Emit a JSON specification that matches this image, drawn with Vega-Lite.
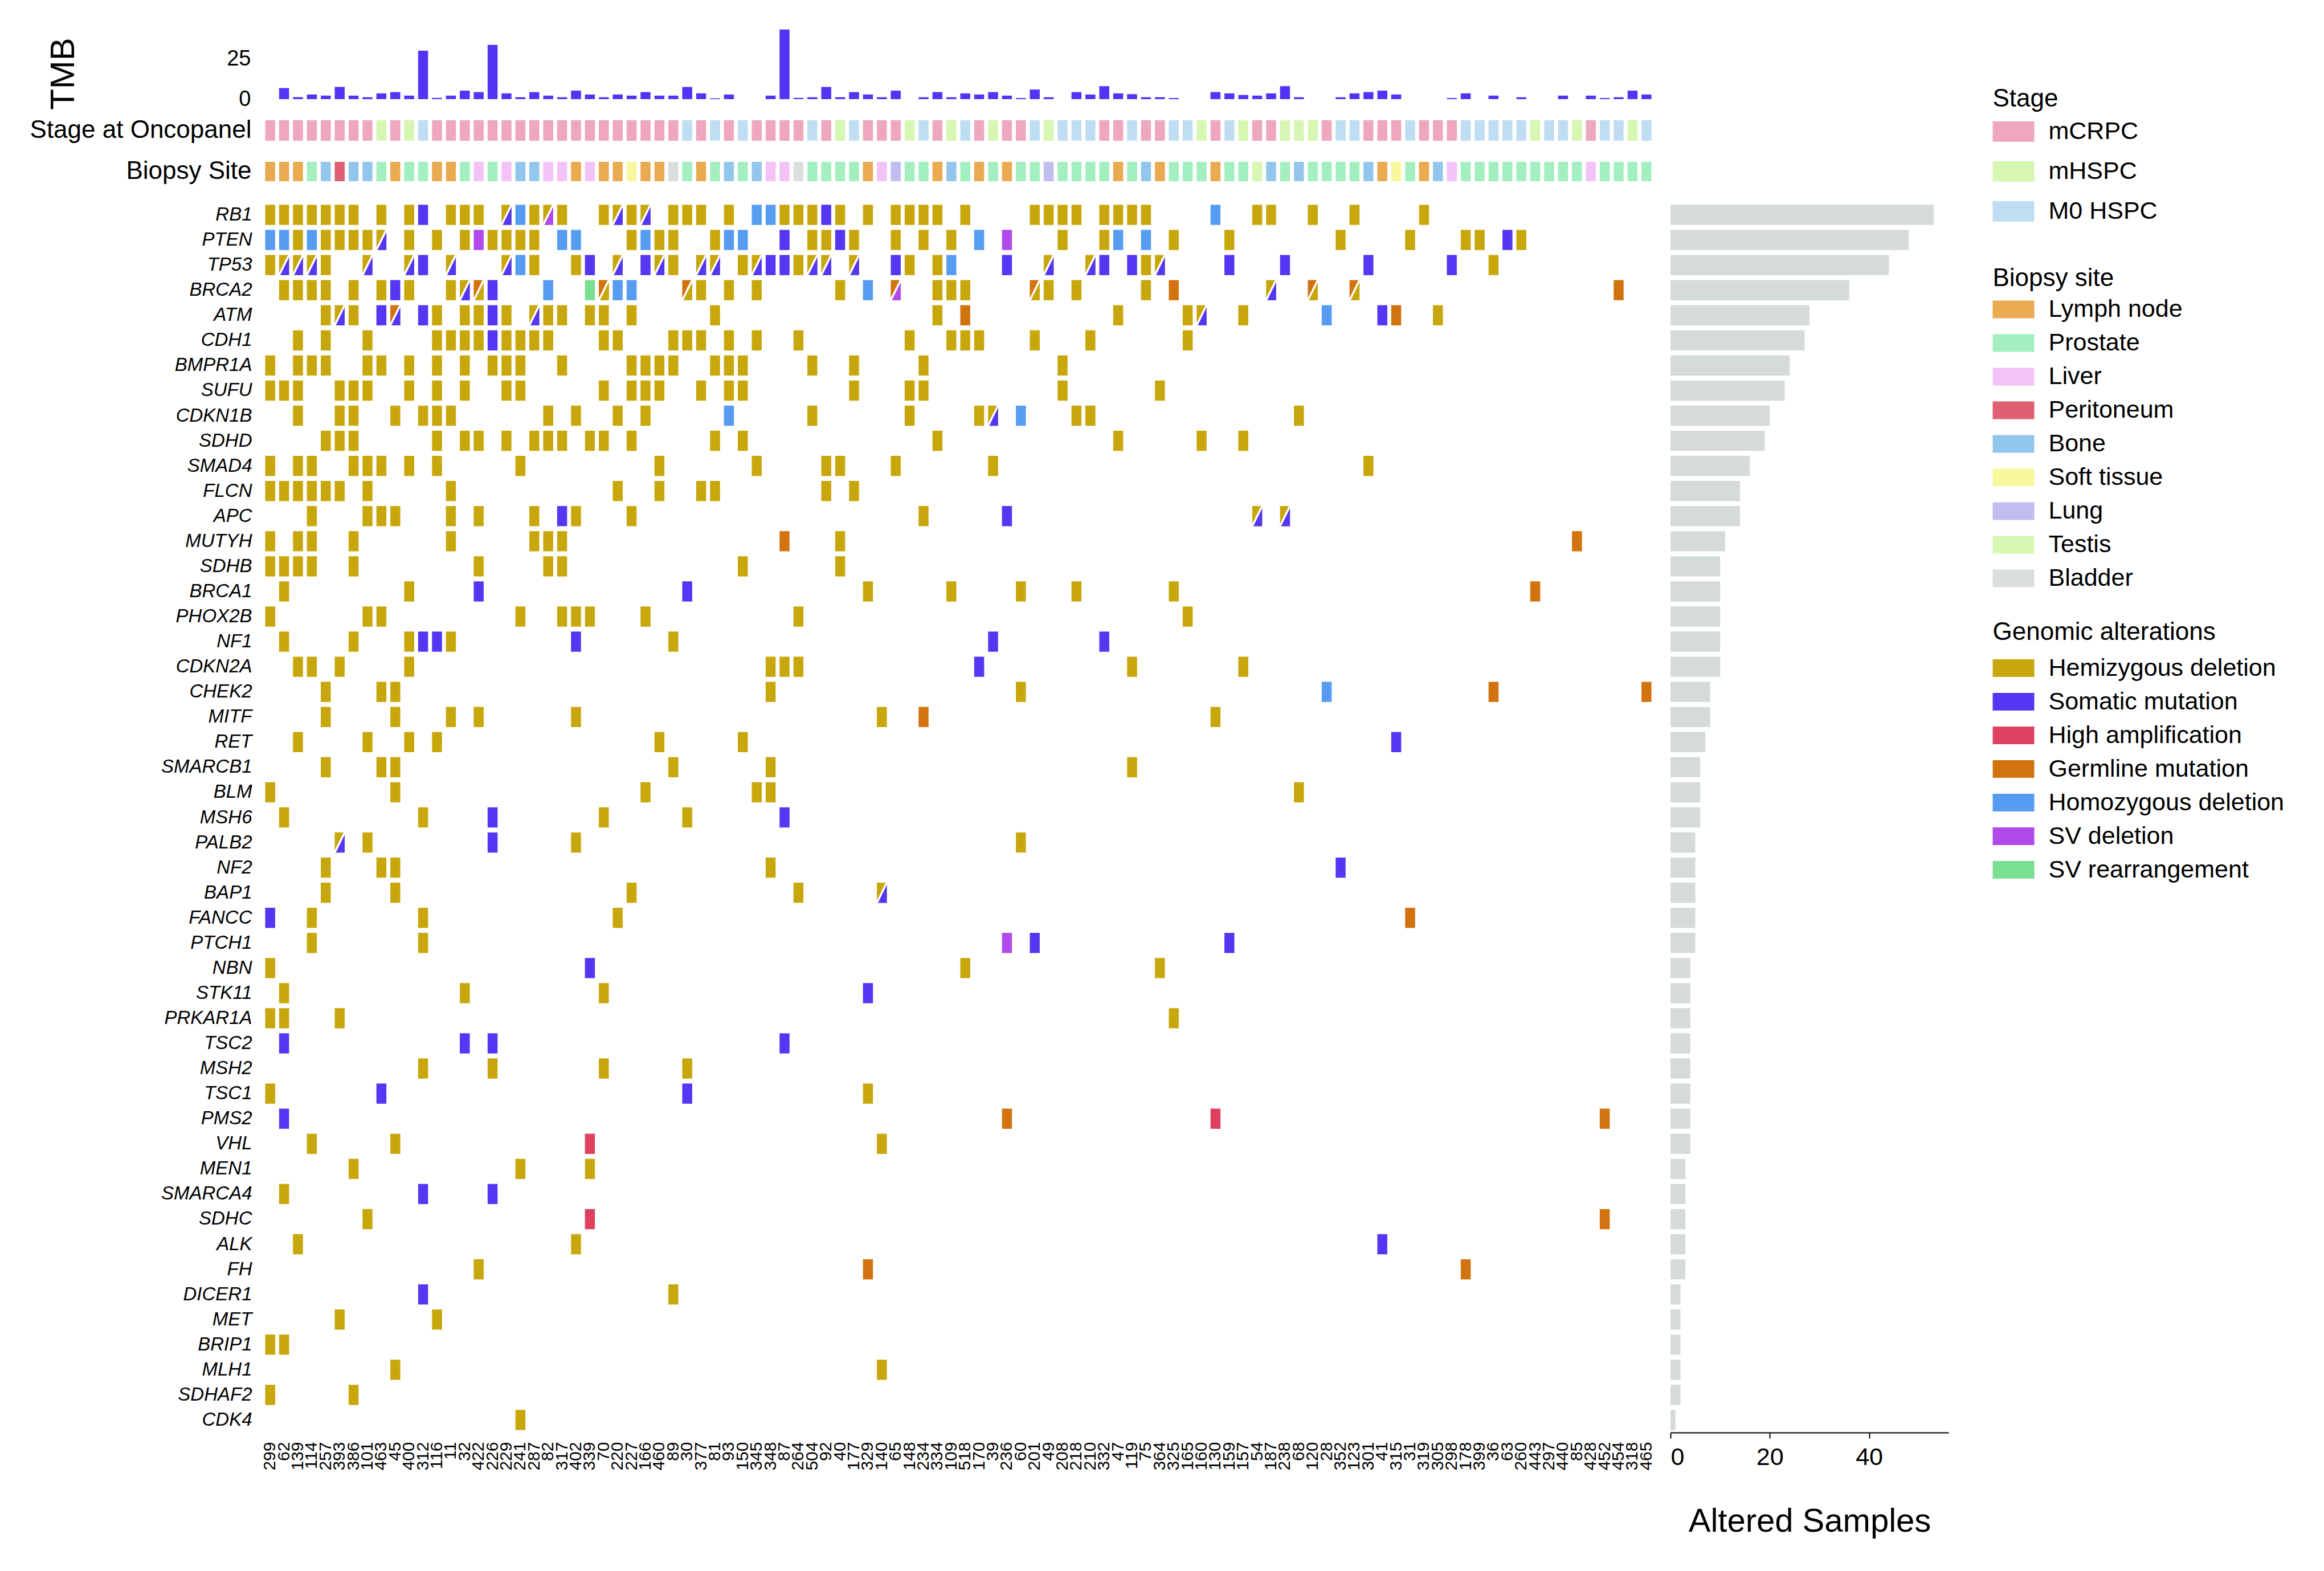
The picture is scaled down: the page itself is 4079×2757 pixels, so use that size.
{
"$schema":"https://vega.github.io/schema/vega-lite/v6.json",
"padding":{"left":52,"top":50,"right":20,"bottom":20},
"background":"white",
"bounds":"flush",
"spacing":37,
"resolve":{"scale":{"color":"independent"},"legend":{"color":"independent"}},
"config":{
 "font":"Liberation Sans",
 "view":{"stroke":null},
 "axis":{"labelFont":"Liberation Sans","titleFont":"Liberation Sans","labelColor":"black","titleColor":"black","titleFontWeight":"normal","labelLimit":800,"grid":false},
 "legend":{"labelFont":"Liberation Sans","titleFont":"Liberation Sans","titleFontWeight":"normal","labelFontSize":43,"titleFontSize":44,"titleColor":"black","labelColor":"black","labelLimit":800,"titleLimit":800,"symbolStrokeWidth":0,"symbolOpacity":1,"padding":0,"offset":0,"labelOffset":25,"direction":"vertical"}
},
"datasets":{
"samples":[
{"col":0,"sample":"299","tmb":0,"stage":"mCRPC","site":"Lymph node"},
{"col":1,"sample":"62","tmb":6.9,"stage":"mCRPC","site":"Lymph node"},
{"col":2,"sample":"139","tmb":1.2,"stage":"mCRPC","site":"Lymph node"},
{"col":3,"sample":"114","tmb":2.9,"stage":"mCRPC","site":"Prostate"},
{"col":4,"sample":"257","tmb":2.2,"stage":"mCRPC","site":"Bone"},
{"col":5,"sample":"393","tmb":7.6,"stage":"mCRPC","site":"Peritoneum"},
{"col":6,"sample":"386","tmb":2.2,"stage":"mCRPC","site":"Bone"},
{"col":7,"sample":"101","tmb":1.2,"stage":"mCRPC","site":"Bone"},
{"col":8,"sample":"463","tmb":3.6,"stage":"mHSPC","site":"Prostate"},
{"col":9,"sample":"45","tmb":4.4,"stage":"mCRPC","site":"Lymph node"},
{"col":10,"sample":"400","tmb":2.2,"stage":"mHSPC","site":"Prostate"},
{"col":11,"sample":"312","tmb":30.2,"stage":"M0 HSPC","site":"Prostate"},
{"col":12,"sample":"116","tmb":0.8,"stage":"mCRPC","site":"Lymph node"},
{"col":13,"sample":"11","tmb":2.2,"stage":"mCRPC","site":"Lymph node"},
{"col":14,"sample":"32","tmb":5.3,"stage":"mCRPC","site":"Prostate"},
{"col":15,"sample":"422","tmb":4.4,"stage":"mCRPC","site":"Liver"},
{"col":16,"sample":"226","tmb":33.8,"stage":"mCRPC","site":"Prostate"},
{"col":17,"sample":"229","tmb":3.6,"stage":"mCRPC","site":"Liver"},
{"col":18,"sample":"241","tmb":1.2,"stage":"mCRPC","site":"Bone"},
{"col":19,"sample":"287","tmb":4.4,"stage":"mCRPC","site":"Bone"},
{"col":20,"sample":"82","tmb":2.2,"stage":"mCRPC","site":"Liver"},
{"col":21,"sample":"317","tmb":1.2,"stage":"mCRPC","site":"Liver"},
{"col":22,"sample":"402","tmb":5.3,"stage":"mCRPC","site":"Lymph node"},
{"col":23,"sample":"339","tmb":2.9,"stage":"mCRPC","site":"Liver"},
{"col":24,"sample":"70","tmb":1.2,"stage":"mCRPC","site":"Lymph node"},
{"col":25,"sample":"220","tmb":2.9,"stage":"mCRPC","site":"Lymph node"},
{"col":26,"sample":"227","tmb":2.2,"stage":"mCRPC","site":"Soft tissue"},
{"col":27,"sample":"166","tmb":4.4,"stage":"mCRPC","site":"Lymph node"},
{"col":28,"sample":"460","tmb":2.2,"stage":"mCRPC","site":"Lymph node"},
{"col":29,"sample":"89","tmb":2.2,"stage":"mCRPC","site":"Bladder"},
{"col":30,"sample":"30","tmb":7.6,"stage":"M0 HSPC","site":"Prostate"},
{"col":31,"sample":"377","tmb":3.6,"stage":"mCRPC","site":"Lymph node"},
{"col":32,"sample":"81","tmb":0.5,"stage":"M0 HSPC","site":"Prostate"},
{"col":33,"sample":"93","tmb":2.9,"stage":"mCRPC","site":"Bone"},
{"col":34,"sample":"150","tmb":0,"stage":"M0 HSPC","site":"Prostate"},
{"col":35,"sample":"345","tmb":0,"stage":"mCRPC","site":"Bone"},
{"col":36,"sample":"348","tmb":2.2,"stage":"mCRPC","site":"Liver"},
{"col":37,"sample":"87","tmb":43.4,"stage":"mCRPC","site":"Liver"},
{"col":38,"sample":"264","tmb":0.8,"stage":"mCRPC","site":"Bladder"},
{"col":39,"sample":"504","tmb":1.2,"stage":"M0 HSPC","site":"Prostate"},
{"col":40,"sample":"92","tmb":7.6,"stage":"mCRPC","site":"Prostate"},
{"col":41,"sample":"40","tmb":1.2,"stage":"mHSPC","site":"Prostate"},
{"col":42,"sample":"177","tmb":4.4,"stage":"M0 HSPC","site":"Prostate"},
{"col":43,"sample":"329","tmb":2.9,"stage":"mCRPC","site":"Lymph node"},
{"col":44,"sample":"140","tmb":1.2,"stage":"mCRPC","site":"Liver"},
{"col":45,"sample":"65","tmb":5.3,"stage":"mCRPC","site":"Lung"},
{"col":46,"sample":"148","tmb":0,"stage":"mHSPC","site":"Prostate"},
{"col":47,"sample":"234","tmb":1.2,"stage":"M0 HSPC","site":"Prostate"},
{"col":48,"sample":"334","tmb":4.4,"stage":"mCRPC","site":"Lymph node"},
{"col":49,"sample":"109","tmb":1.2,"stage":"mHSPC","site":"Bone"},
{"col":50,"sample":"518","tmb":3.6,"stage":"M0 HSPC","site":"Prostate"},
{"col":51,"sample":"170","tmb":2.9,"stage":"mCRPC","site":"Lymph node"},
{"col":52,"sample":"39","tmb":4.4,"stage":"mHSPC","site":"Prostate"},
{"col":53,"sample":"236","tmb":2.2,"stage":"mCRPC","site":"Lymph node"},
{"col":54,"sample":"60","tmb":0.7,"stage":"mCRPC","site":"Prostate"},
{"col":55,"sample":"201","tmb":6.0,"stage":"M0 HSPC","site":"Prostate"},
{"col":56,"sample":"49","tmb":1.2,"stage":"mHSPC","site":"Lung"},
{"col":57,"sample":"208","tmb":0,"stage":"M0 HSPC","site":"Prostate"},
{"col":58,"sample":"218","tmb":4.4,"stage":"M0 HSPC","site":"Prostate"},
{"col":59,"sample":"210","tmb":2.9,"stage":"M0 HSPC","site":"Prostate"},
{"col":60,"sample":"332","tmb":8.1,"stage":"mCRPC","site":"Prostate"},
{"col":61,"sample":"47","tmb":3.6,"stage":"mCRPC","site":"Lymph node"},
{"col":62,"sample":"119","tmb":3.1,"stage":"M0 HSPC","site":"Prostate"},
{"col":63,"sample":"75","tmb":1.2,"stage":"mCRPC","site":"Bone"},
{"col":64,"sample":"364","tmb":1.2,"stage":"mCRPC","site":"Lymph node"},
{"col":65,"sample":"325","tmb":0.7,"stage":"M0 HSPC","site":"Prostate"},
{"col":66,"sample":"165","tmb":0,"stage":"M0 HSPC","site":"Prostate"},
{"col":67,"sample":"160","tmb":0,"stage":"mHSPC","site":"Prostate"},
{"col":68,"sample":"130","tmb":4.4,"stage":"mCRPC","site":"Lymph node"},
{"col":69,"sample":"159","tmb":3.6,"stage":"M0 HSPC","site":"Prostate"},
{"col":70,"sample":"157","tmb":2.6,"stage":"mHSPC","site":"Prostate"},
{"col":71,"sample":"54","tmb":2.2,"stage":"mCRPC","site":"Testis"},
{"col":72,"sample":"187","tmb":3.6,"stage":"mCRPC","site":"Bone"},
{"col":73,"sample":"238","tmb":8.1,"stage":"mHSPC","site":"Prostate"},
{"col":74,"sample":"68","tmb":1.2,"stage":"mHSPC","site":"Bone"},
{"col":75,"sample":"120","tmb":0,"stage":"mHSPC","site":"Prostate"},
{"col":76,"sample":"28","tmb":0,"stage":"mCRPC","site":"Prostate"},
{"col":77,"sample":"352","tmb":1.2,"stage":"M0 HSPC","site":"Prostate"},
{"col":78,"sample":"123","tmb":3.6,"stage":"M0 HSPC","site":"Prostate"},
{"col":79,"sample":"301","tmb":4.4,"stage":"mCRPC","site":"Bone"},
{"col":80,"sample":"41","tmb":5.3,"stage":"mCRPC","site":"Lymph node"},
{"col":81,"sample":"315","tmb":2.9,"stage":"mCRPC","site":"Soft tissue"},
{"col":82,"sample":"31","tmb":0,"stage":"M0 HSPC","site":"Prostate"},
{"col":83,"sample":"319","tmb":0,"stage":"mCRPC","site":"Lymph node"},
{"col":84,"sample":"305","tmb":0,"stage":"mCRPC","site":"Bone"},
{"col":85,"sample":"298","tmb":0.7,"stage":"mCRPC","site":"Liver"},
{"col":86,"sample":"178","tmb":3.6,"stage":"M0 HSPC","site":"Prostate"},
{"col":87,"sample":"399","tmb":0,"stage":"M0 HSPC","site":"Prostate"},
{"col":88,"sample":"36","tmb":2.2,"stage":"M0 HSPC","site":"Prostate"},
{"col":89,"sample":"63","tmb":0,"stage":"M0 HSPC","site":"Prostate"},
{"col":90,"sample":"260","tmb":1.2,"stage":"M0 HSPC","site":"Prostate"},
{"col":91,"sample":"443","tmb":0,"stage":"mHSPC","site":"Prostate"},
{"col":92,"sample":"297","tmb":0,"stage":"M0 HSPC","site":"Prostate"},
{"col":93,"sample":"440","tmb":2.2,"stage":"M0 HSPC","site":"Prostate"},
{"col":94,"sample":"85","tmb":0,"stage":"mHSPC","site":"Prostate"},
{"col":95,"sample":"428","tmb":2.2,"stage":"mCRPC","site":"Liver"},
{"col":96,"sample":"452","tmb":0.7,"stage":"M0 HSPC","site":"Prostate"},
{"col":97,"sample":"454","tmb":1.2,"stage":"M0 HSPC","site":"Prostate"},
{"col":98,"sample":"318","tmb":5.3,"stage":"mHSPC","site":"Prostate"},
{"col":99,"sample":"465","tmb":2.9,"stage":"M0 HSPC","site":"Prostate"}
],
"alts":[
{"col":0,"gene":"RB1","alteration":"Hemizygous deletion"},
{"col":1,"gene":"RB1","alteration":"Hemizygous deletion"},
{"col":2,"gene":"RB1","alteration":"Hemizygous deletion"},
{"col":3,"gene":"RB1","alteration":"Hemizygous deletion"},
{"col":4,"gene":"RB1","alteration":"Hemizygous deletion"},
{"col":5,"gene":"RB1","alteration":"Hemizygous deletion"},
{"col":6,"gene":"RB1","alteration":"Hemizygous deletion"},
{"col":8,"gene":"RB1","alteration":"Hemizygous deletion"},
{"col":10,"gene":"RB1","alteration":"Hemizygous deletion"},
{"col":11,"gene":"RB1","alteration":"Somatic mutation"},
{"col":13,"gene":"RB1","alteration":"Hemizygous deletion"},
{"col":14,"gene":"RB1","alteration":"Hemizygous deletion"},
{"col":15,"gene":"RB1","alteration":"Hemizygous deletion"},
{"col":17,"gene":"RB1","alteration":"Hemizygous deletion","second":"Somatic mutation"},
{"col":18,"gene":"RB1","alteration":"Homozygous deletion"},
{"col":19,"gene":"RB1","alteration":"Hemizygous deletion"},
{"col":20,"gene":"RB1","alteration":"Hemizygous deletion","second":"SV deletion"},
{"col":21,"gene":"RB1","alteration":"Hemizygous deletion"},
{"col":24,"gene":"RB1","alteration":"Hemizygous deletion"},
{"col":25,"gene":"RB1","alteration":"Hemizygous deletion","second":"Somatic mutation"},
{"col":26,"gene":"RB1","alteration":"Hemizygous deletion"},
{"col":27,"gene":"RB1","alteration":"Hemizygous deletion","second":"Somatic mutation"},
{"col":29,"gene":"RB1","alteration":"Hemizygous deletion"},
{"col":30,"gene":"RB1","alteration":"Hemizygous deletion"},
{"col":31,"gene":"RB1","alteration":"Hemizygous deletion"},
{"col":33,"gene":"RB1","alteration":"Hemizygous deletion"},
{"col":35,"gene":"RB1","alteration":"Homozygous deletion"},
{"col":36,"gene":"RB1","alteration":"Homozygous deletion"},
{"col":37,"gene":"RB1","alteration":"Hemizygous deletion"},
{"col":38,"gene":"RB1","alteration":"Hemizygous deletion"},
{"col":39,"gene":"RB1","alteration":"Hemizygous deletion"},
{"col":40,"gene":"RB1","alteration":"Somatic mutation"},
{"col":41,"gene":"RB1","alteration":"Hemizygous deletion"},
{"col":43,"gene":"RB1","alteration":"Hemizygous deletion"},
{"col":45,"gene":"RB1","alteration":"Hemizygous deletion"},
{"col":46,"gene":"RB1","alteration":"Hemizygous deletion"},
{"col":47,"gene":"RB1","alteration":"Hemizygous deletion"},
{"col":48,"gene":"RB1","alteration":"Hemizygous deletion"},
{"col":50,"gene":"RB1","alteration":"Hemizygous deletion"},
{"col":55,"gene":"RB1","alteration":"Hemizygous deletion"},
{"col":56,"gene":"RB1","alteration":"Hemizygous deletion"},
{"col":57,"gene":"RB1","alteration":"Hemizygous deletion"},
{"col":58,"gene":"RB1","alteration":"Hemizygous deletion"},
{"col":60,"gene":"RB1","alteration":"Hemizygous deletion"},
{"col":61,"gene":"RB1","alteration":"Hemizygous deletion"},
{"col":62,"gene":"RB1","alteration":"Hemizygous deletion"},
{"col":63,"gene":"RB1","alteration":"Hemizygous deletion"},
{"col":68,"gene":"RB1","alteration":"Homozygous deletion"},
{"col":71,"gene":"RB1","alteration":"Hemizygous deletion"},
{"col":72,"gene":"RB1","alteration":"Hemizygous deletion"},
{"col":75,"gene":"RB1","alteration":"Hemizygous deletion"},
{"col":78,"gene":"RB1","alteration":"Hemizygous deletion"},
{"col":83,"gene":"RB1","alteration":"Hemizygous deletion"},
{"col":0,"gene":"PTEN","alteration":"Homozygous deletion"},
{"col":1,"gene":"PTEN","alteration":"Homozygous deletion"},
{"col":2,"gene":"PTEN","alteration":"Hemizygous deletion"},
{"col":3,"gene":"PTEN","alteration":"Homozygous deletion"},
{"col":4,"gene":"PTEN","alteration":"Hemizygous deletion"},
{"col":5,"gene":"PTEN","alteration":"Hemizygous deletion"},
{"col":6,"gene":"PTEN","alteration":"Hemizygous deletion"},
{"col":7,"gene":"PTEN","alteration":"Hemizygous deletion"},
{"col":8,"gene":"PTEN","alteration":"Hemizygous deletion","second":"Somatic mutation"},
{"col":10,"gene":"PTEN","alteration":"Hemizygous deletion"},
{"col":12,"gene":"PTEN","alteration":"Hemizygous deletion"},
{"col":14,"gene":"PTEN","alteration":"Hemizygous deletion"},
{"col":15,"gene":"PTEN","alteration":"SV deletion"},
{"col":16,"gene":"PTEN","alteration":"Hemizygous deletion"},
{"col":17,"gene":"PTEN","alteration":"Hemizygous deletion"},
{"col":18,"gene":"PTEN","alteration":"Hemizygous deletion"},
{"col":19,"gene":"PTEN","alteration":"Hemizygous deletion"},
{"col":21,"gene":"PTEN","alteration":"Homozygous deletion"},
{"col":22,"gene":"PTEN","alteration":"Homozygous deletion"},
{"col":26,"gene":"PTEN","alteration":"Hemizygous deletion"},
{"col":27,"gene":"PTEN","alteration":"Homozygous deletion"},
{"col":28,"gene":"PTEN","alteration":"Hemizygous deletion"},
{"col":29,"gene":"PTEN","alteration":"Hemizygous deletion"},
{"col":32,"gene":"PTEN","alteration":"Hemizygous deletion"},
{"col":33,"gene":"PTEN","alteration":"Homozygous deletion"},
{"col":34,"gene":"PTEN","alteration":"Homozygous deletion"},
{"col":37,"gene":"PTEN","alteration":"Somatic mutation"},
{"col":39,"gene":"PTEN","alteration":"Hemizygous deletion"},
{"col":40,"gene":"PTEN","alteration":"Hemizygous deletion"},
{"col":41,"gene":"PTEN","alteration":"Somatic mutation"},
{"col":42,"gene":"PTEN","alteration":"Hemizygous deletion"},
{"col":45,"gene":"PTEN","alteration":"Hemizygous deletion"},
{"col":47,"gene":"PTEN","alteration":"Hemizygous deletion"},
{"col":49,"gene":"PTEN","alteration":"Hemizygous deletion"},
{"col":51,"gene":"PTEN","alteration":"Homozygous deletion"},
{"col":53,"gene":"PTEN","alteration":"SV deletion"},
{"col":57,"gene":"PTEN","alteration":"Hemizygous deletion"},
{"col":60,"gene":"PTEN","alteration":"Hemizygous deletion"},
{"col":61,"gene":"PTEN","alteration":"Homozygous deletion"},
{"col":63,"gene":"PTEN","alteration":"Homozygous deletion"},
{"col":65,"gene":"PTEN","alteration":"Hemizygous deletion"},
{"col":69,"gene":"PTEN","alteration":"Hemizygous deletion"},
{"col":77,"gene":"PTEN","alteration":"Hemizygous deletion"},
{"col":82,"gene":"PTEN","alteration":"Hemizygous deletion"},
{"col":86,"gene":"PTEN","alteration":"Hemizygous deletion"},
{"col":87,"gene":"PTEN","alteration":"Hemizygous deletion"},
{"col":89,"gene":"PTEN","alteration":"Somatic mutation"},
{"col":90,"gene":"PTEN","alteration":"Hemizygous deletion"},
{"col":0,"gene":"TP53","alteration":"Hemizygous deletion"},
{"col":1,"gene":"TP53","alteration":"Hemizygous deletion","second":"Somatic mutation"},
{"col":2,"gene":"TP53","alteration":"Hemizygous deletion","second":"Somatic mutation"},
{"col":3,"gene":"TP53","alteration":"Hemizygous deletion","second":"Somatic mutation"},
{"col":4,"gene":"TP53","alteration":"Hemizygous deletion"},
{"col":7,"gene":"TP53","alteration":"Hemizygous deletion","second":"Somatic mutation"},
{"col":10,"gene":"TP53","alteration":"Hemizygous deletion","second":"Somatic mutation"},
{"col":11,"gene":"TP53","alteration":"Somatic mutation"},
{"col":13,"gene":"TP53","alteration":"Hemizygous deletion","second":"Somatic mutation"},
{"col":17,"gene":"TP53","alteration":"Hemizygous deletion","second":"Somatic mutation"},
{"col":18,"gene":"TP53","alteration":"Homozygous deletion"},
{"col":19,"gene":"TP53","alteration":"Hemizygous deletion"},
{"col":22,"gene":"TP53","alteration":"Hemizygous deletion"},
{"col":23,"gene":"TP53","alteration":"Somatic mutation"},
{"col":25,"gene":"TP53","alteration":"Hemizygous deletion","second":"Somatic mutation"},
{"col":27,"gene":"TP53","alteration":"Somatic mutation"},
{"col":28,"gene":"TP53","alteration":"Hemizygous deletion","second":"Somatic mutation"},
{"col":29,"gene":"TP53","alteration":"Hemizygous deletion"},
{"col":31,"gene":"TP53","alteration":"Hemizygous deletion","second":"Somatic mutation"},
{"col":32,"gene":"TP53","alteration":"Hemizygous deletion","second":"Somatic mutation"},
{"col":34,"gene":"TP53","alteration":"Hemizygous deletion"},
{"col":35,"gene":"TP53","alteration":"Hemizygous deletion","second":"Somatic mutation"},
{"col":36,"gene":"TP53","alteration":"Somatic mutation"},
{"col":37,"gene":"TP53","alteration":"Somatic mutation"},
{"col":38,"gene":"TP53","alteration":"Hemizygous deletion"},
{"col":39,"gene":"TP53","alteration":"Hemizygous deletion","second":"Somatic mutation"},
{"col":40,"gene":"TP53","alteration":"Hemizygous deletion","second":"Somatic mutation"},
{"col":42,"gene":"TP53","alteration":"Hemizygous deletion","second":"Somatic mutation"},
{"col":45,"gene":"TP53","alteration":"Somatic mutation"},
{"col":46,"gene":"TP53","alteration":"Hemizygous deletion"},
{"col":48,"gene":"TP53","alteration":"Hemizygous deletion"},
{"col":49,"gene":"TP53","alteration":"Homozygous deletion"},
{"col":53,"gene":"TP53","alteration":"Somatic mutation"},
{"col":56,"gene":"TP53","alteration":"Hemizygous deletion","second":"Somatic mutation"},
{"col":59,"gene":"TP53","alteration":"Hemizygous deletion","second":"Somatic mutation"},
{"col":60,"gene":"TP53","alteration":"Somatic mutation"},
{"col":62,"gene":"TP53","alteration":"Somatic mutation"},
{"col":63,"gene":"TP53","alteration":"Hemizygous deletion"},
{"col":64,"gene":"TP53","alteration":"Hemizygous deletion","second":"Somatic mutation"},
{"col":69,"gene":"TP53","alteration":"Somatic mutation"},
{"col":73,"gene":"TP53","alteration":"Somatic mutation"},
{"col":79,"gene":"TP53","alteration":"Somatic mutation"},
{"col":85,"gene":"TP53","alteration":"Somatic mutation"},
{"col":88,"gene":"TP53","alteration":"Hemizygous deletion"},
{"col":1,"gene":"BRCA2","alteration":"Hemizygous deletion"},
{"col":2,"gene":"BRCA2","alteration":"Hemizygous deletion"},
{"col":3,"gene":"BRCA2","alteration":"Hemizygous deletion"},
{"col":4,"gene":"BRCA2","alteration":"Hemizygous deletion"},
{"col":6,"gene":"BRCA2","alteration":"Hemizygous deletion"},
{"col":8,"gene":"BRCA2","alteration":"Hemizygous deletion"},
{"col":9,"gene":"BRCA2","alteration":"Somatic mutation"},
{"col":10,"gene":"BRCA2","alteration":"Hemizygous deletion"},
{"col":13,"gene":"BRCA2","alteration":"Hemizygous deletion"},
{"col":14,"gene":"BRCA2","alteration":"Hemizygous deletion","second":"Somatic mutation"},
{"col":15,"gene":"BRCA2","alteration":"Germline mutation","second":"Hemizygous deletion"},
{"col":16,"gene":"BRCA2","alteration":"Somatic mutation"},
{"col":20,"gene":"BRCA2","alteration":"Homozygous deletion"},
{"col":23,"gene":"BRCA2","alteration":"SV rearrangement"},
{"col":24,"gene":"BRCA2","alteration":"Germline mutation","second":"Hemizygous deletion"},
{"col":25,"gene":"BRCA2","alteration":"Homozygous deletion"},
{"col":26,"gene":"BRCA2","alteration":"Homozygous deletion"},
{"col":30,"gene":"BRCA2","alteration":"Germline mutation","second":"Hemizygous deletion"},
{"col":31,"gene":"BRCA2","alteration":"Hemizygous deletion"},
{"col":33,"gene":"BRCA2","alteration":"Hemizygous deletion"},
{"col":35,"gene":"BRCA2","alteration":"Hemizygous deletion"},
{"col":41,"gene":"BRCA2","alteration":"Hemizygous deletion"},
{"col":43,"gene":"BRCA2","alteration":"Homozygous deletion"},
{"col":45,"gene":"BRCA2","alteration":"Germline mutation","second":"SV deletion"},
{"col":48,"gene":"BRCA2","alteration":"Hemizygous deletion"},
{"col":49,"gene":"BRCA2","alteration":"Hemizygous deletion"},
{"col":50,"gene":"BRCA2","alteration":"Hemizygous deletion"},
{"col":55,"gene":"BRCA2","alteration":"Germline mutation","second":"Hemizygous deletion"},
{"col":56,"gene":"BRCA2","alteration":"Hemizygous deletion"},
{"col":58,"gene":"BRCA2","alteration":"Hemizygous deletion"},
{"col":63,"gene":"BRCA2","alteration":"Hemizygous deletion"},
{"col":65,"gene":"BRCA2","alteration":"Germline mutation"},
{"col":72,"gene":"BRCA2","alteration":"Hemizygous deletion","second":"Somatic mutation"},
{"col":75,"gene":"BRCA2","alteration":"Germline mutation","second":"Hemizygous deletion"},
{"col":78,"gene":"BRCA2","alteration":"Germline mutation","second":"Hemizygous deletion"},
{"col":97,"gene":"BRCA2","alteration":"Germline mutation"},
{"col":4,"gene":"ATM","alteration":"Hemizygous deletion"},
{"col":5,"gene":"ATM","alteration":"Hemizygous deletion","second":"Somatic mutation"},
{"col":6,"gene":"ATM","alteration":"Hemizygous deletion"},
{"col":8,"gene":"ATM","alteration":"Somatic mutation"},
{"col":9,"gene":"ATM","alteration":"Germline mutation","second":"Somatic mutation"},
{"col":11,"gene":"ATM","alteration":"Somatic mutation"},
{"col":12,"gene":"ATM","alteration":"Hemizygous deletion"},
{"col":14,"gene":"ATM","alteration":"Hemizygous deletion"},
{"col":15,"gene":"ATM","alteration":"Hemizygous deletion"},
{"col":16,"gene":"ATM","alteration":"Somatic mutation"},
{"col":17,"gene":"ATM","alteration":"Hemizygous deletion"},
{"col":19,"gene":"ATM","alteration":"Hemizygous deletion","second":"Somatic mutation"},
{"col":20,"gene":"ATM","alteration":"Hemizygous deletion"},
{"col":21,"gene":"ATM","alteration":"Hemizygous deletion"},
{"col":23,"gene":"ATM","alteration":"Hemizygous deletion"},
{"col":24,"gene":"ATM","alteration":"Hemizygous deletion"},
{"col":26,"gene":"ATM","alteration":"Hemizygous deletion"},
{"col":32,"gene":"ATM","alteration":"Hemizygous deletion"},
{"col":48,"gene":"ATM","alteration":"Hemizygous deletion"},
{"col":50,"gene":"ATM","alteration":"Germline mutation"},
{"col":61,"gene":"ATM","alteration":"Hemizygous deletion"},
{"col":66,"gene":"ATM","alteration":"Hemizygous deletion"},
{"col":67,"gene":"ATM","alteration":"Hemizygous deletion","second":"Somatic mutation"},
{"col":70,"gene":"ATM","alteration":"Hemizygous deletion"},
{"col":76,"gene":"ATM","alteration":"Homozygous deletion"},
{"col":80,"gene":"ATM","alteration":"Somatic mutation"},
{"col":81,"gene":"ATM","alteration":"Germline mutation"},
{"col":84,"gene":"ATM","alteration":"Hemizygous deletion"},
{"col":2,"gene":"CDH1","alteration":"Hemizygous deletion"},
{"col":4,"gene":"CDH1","alteration":"Hemizygous deletion"},
{"col":7,"gene":"CDH1","alteration":"Hemizygous deletion"},
{"col":12,"gene":"CDH1","alteration":"Hemizygous deletion"},
{"col":13,"gene":"CDH1","alteration":"Hemizygous deletion"},
{"col":14,"gene":"CDH1","alteration":"Hemizygous deletion"},
{"col":15,"gene":"CDH1","alteration":"Hemizygous deletion"},
{"col":16,"gene":"CDH1","alteration":"Somatic mutation"},
{"col":17,"gene":"CDH1","alteration":"Hemizygous deletion"},
{"col":18,"gene":"CDH1","alteration":"Hemizygous deletion"},
{"col":19,"gene":"CDH1","alteration":"Hemizygous deletion"},
{"col":20,"gene":"CDH1","alteration":"Hemizygous deletion"},
{"col":24,"gene":"CDH1","alteration":"Hemizygous deletion"},
{"col":25,"gene":"CDH1","alteration":"Hemizygous deletion"},
{"col":29,"gene":"CDH1","alteration":"Hemizygous deletion"},
{"col":30,"gene":"CDH1","alteration":"Hemizygous deletion"},
{"col":31,"gene":"CDH1","alteration":"Hemizygous deletion"},
{"col":33,"gene":"CDH1","alteration":"Hemizygous deletion"},
{"col":35,"gene":"CDH1","alteration":"Hemizygous deletion"},
{"col":38,"gene":"CDH1","alteration":"Hemizygous deletion"},
{"col":46,"gene":"CDH1","alteration":"Hemizygous deletion"},
{"col":49,"gene":"CDH1","alteration":"Hemizygous deletion"},
{"col":50,"gene":"CDH1","alteration":"Hemizygous deletion"},
{"col":51,"gene":"CDH1","alteration":"Hemizygous deletion"},
{"col":55,"gene":"CDH1","alteration":"Hemizygous deletion"},
{"col":59,"gene":"CDH1","alteration":"Hemizygous deletion"},
{"col":66,"gene":"CDH1","alteration":"Hemizygous deletion"},
{"col":0,"gene":"BMPR1A","alteration":"Hemizygous deletion"},
{"col":2,"gene":"BMPR1A","alteration":"Hemizygous deletion"},
{"col":3,"gene":"BMPR1A","alteration":"Hemizygous deletion"},
{"col":4,"gene":"BMPR1A","alteration":"Hemizygous deletion"},
{"col":7,"gene":"BMPR1A","alteration":"Hemizygous deletion"},
{"col":8,"gene":"BMPR1A","alteration":"Hemizygous deletion"},
{"col":10,"gene":"BMPR1A","alteration":"Hemizygous deletion"},
{"col":12,"gene":"BMPR1A","alteration":"Hemizygous deletion"},
{"col":14,"gene":"BMPR1A","alteration":"Hemizygous deletion"},
{"col":16,"gene":"BMPR1A","alteration":"Hemizygous deletion"},
{"col":17,"gene":"BMPR1A","alteration":"Hemizygous deletion"},
{"col":18,"gene":"BMPR1A","alteration":"Hemizygous deletion"},
{"col":21,"gene":"BMPR1A","alteration":"Hemizygous deletion"},
{"col":26,"gene":"BMPR1A","alteration":"Hemizygous deletion"},
{"col":27,"gene":"BMPR1A","alteration":"Hemizygous deletion"},
{"col":28,"gene":"BMPR1A","alteration":"Hemizygous deletion"},
{"col":29,"gene":"BMPR1A","alteration":"Hemizygous deletion"},
{"col":32,"gene":"BMPR1A","alteration":"Hemizygous deletion"},
{"col":33,"gene":"BMPR1A","alteration":"Hemizygous deletion"},
{"col":34,"gene":"BMPR1A","alteration":"Hemizygous deletion"},
{"col":39,"gene":"BMPR1A","alteration":"Hemizygous deletion"},
{"col":42,"gene":"BMPR1A","alteration":"Hemizygous deletion"},
{"col":47,"gene":"BMPR1A","alteration":"Hemizygous deletion"},
{"col":57,"gene":"BMPR1A","alteration":"Hemizygous deletion"},
{"col":0,"gene":"SUFU","alteration":"Hemizygous deletion"},
{"col":1,"gene":"SUFU","alteration":"Hemizygous deletion"},
{"col":2,"gene":"SUFU","alteration":"Hemizygous deletion"},
{"col":5,"gene":"SUFU","alteration":"Hemizygous deletion"},
{"col":6,"gene":"SUFU","alteration":"Hemizygous deletion"},
{"col":7,"gene":"SUFU","alteration":"Hemizygous deletion"},
{"col":10,"gene":"SUFU","alteration":"Hemizygous deletion"},
{"col":12,"gene":"SUFU","alteration":"Hemizygous deletion"},
{"col":14,"gene":"SUFU","alteration":"Hemizygous deletion"},
{"col":17,"gene":"SUFU","alteration":"Hemizygous deletion"},
{"col":18,"gene":"SUFU","alteration":"Hemizygous deletion"},
{"col":24,"gene":"SUFU","alteration":"Hemizygous deletion"},
{"col":26,"gene":"SUFU","alteration":"Hemizygous deletion"},
{"col":27,"gene":"SUFU","alteration":"Hemizygous deletion"},
{"col":28,"gene":"SUFU","alteration":"Hemizygous deletion"},
{"col":31,"gene":"SUFU","alteration":"Hemizygous deletion"},
{"col":33,"gene":"SUFU","alteration":"Hemizygous deletion"},
{"col":34,"gene":"SUFU","alteration":"Hemizygous deletion"},
{"col":42,"gene":"SUFU","alteration":"Hemizygous deletion"},
{"col":46,"gene":"SUFU","alteration":"Hemizygous deletion"},
{"col":47,"gene":"SUFU","alteration":"Hemizygous deletion"},
{"col":57,"gene":"SUFU","alteration":"Hemizygous deletion"},
{"col":64,"gene":"SUFU","alteration":"Hemizygous deletion"},
{"col":2,"gene":"CDKN1B","alteration":"Hemizygous deletion"},
{"col":5,"gene":"CDKN1B","alteration":"Hemizygous deletion"},
{"col":6,"gene":"CDKN1B","alteration":"Hemizygous deletion"},
{"col":9,"gene":"CDKN1B","alteration":"Hemizygous deletion"},
{"col":11,"gene":"CDKN1B","alteration":"Hemizygous deletion"},
{"col":12,"gene":"CDKN1B","alteration":"Hemizygous deletion"},
{"col":13,"gene":"CDKN1B","alteration":"Hemizygous deletion"},
{"col":20,"gene":"CDKN1B","alteration":"Hemizygous deletion"},
{"col":22,"gene":"CDKN1B","alteration":"Hemizygous deletion"},
{"col":25,"gene":"CDKN1B","alteration":"Hemizygous deletion"},
{"col":27,"gene":"CDKN1B","alteration":"Hemizygous deletion"},
{"col":33,"gene":"CDKN1B","alteration":"Homozygous deletion"},
{"col":39,"gene":"CDKN1B","alteration":"Hemizygous deletion"},
{"col":46,"gene":"CDKN1B","alteration":"Hemizygous deletion"},
{"col":51,"gene":"CDKN1B","alteration":"Hemizygous deletion"},
{"col":52,"gene":"CDKN1B","alteration":"Hemizygous deletion","second":"Somatic mutation"},
{"col":54,"gene":"CDKN1B","alteration":"Homozygous deletion"},
{"col":58,"gene":"CDKN1B","alteration":"Hemizygous deletion"},
{"col":59,"gene":"CDKN1B","alteration":"Hemizygous deletion"},
{"col":74,"gene":"CDKN1B","alteration":"Hemizygous deletion"},
{"col":4,"gene":"SDHD","alteration":"Hemizygous deletion"},
{"col":5,"gene":"SDHD","alteration":"Hemizygous deletion"},
{"col":6,"gene":"SDHD","alteration":"Hemizygous deletion"},
{"col":12,"gene":"SDHD","alteration":"Hemizygous deletion"},
{"col":14,"gene":"SDHD","alteration":"Hemizygous deletion"},
{"col":15,"gene":"SDHD","alteration":"Hemizygous deletion"},
{"col":17,"gene":"SDHD","alteration":"Hemizygous deletion"},
{"col":19,"gene":"SDHD","alteration":"Hemizygous deletion"},
{"col":20,"gene":"SDHD","alteration":"Hemizygous deletion"},
{"col":21,"gene":"SDHD","alteration":"Hemizygous deletion"},
{"col":23,"gene":"SDHD","alteration":"Hemizygous deletion"},
{"col":24,"gene":"SDHD","alteration":"Hemizygous deletion"},
{"col":26,"gene":"SDHD","alteration":"Hemizygous deletion"},
{"col":32,"gene":"SDHD","alteration":"Hemizygous deletion"},
{"col":34,"gene":"SDHD","alteration":"Hemizygous deletion"},
{"col":48,"gene":"SDHD","alteration":"Hemizygous deletion"},
{"col":61,"gene":"SDHD","alteration":"Hemizygous deletion"},
{"col":67,"gene":"SDHD","alteration":"Hemizygous deletion"},
{"col":70,"gene":"SDHD","alteration":"Hemizygous deletion"},
{"col":0,"gene":"SMAD4","alteration":"Hemizygous deletion"},
{"col":2,"gene":"SMAD4","alteration":"Hemizygous deletion"},
{"col":3,"gene":"SMAD4","alteration":"Hemizygous deletion"},
{"col":6,"gene":"SMAD4","alteration":"Hemizygous deletion"},
{"col":7,"gene":"SMAD4","alteration":"Hemizygous deletion"},
{"col":8,"gene":"SMAD4","alteration":"Hemizygous deletion"},
{"col":10,"gene":"SMAD4","alteration":"Hemizygous deletion"},
{"col":12,"gene":"SMAD4","alteration":"Hemizygous deletion"},
{"col":18,"gene":"SMAD4","alteration":"Hemizygous deletion"},
{"col":28,"gene":"SMAD4","alteration":"Hemizygous deletion"},
{"col":35,"gene":"SMAD4","alteration":"Hemizygous deletion"},
{"col":40,"gene":"SMAD4","alteration":"Hemizygous deletion"},
{"col":41,"gene":"SMAD4","alteration":"Hemizygous deletion"},
{"col":45,"gene":"SMAD4","alteration":"Hemizygous deletion"},
{"col":52,"gene":"SMAD4","alteration":"Hemizygous deletion"},
{"col":79,"gene":"SMAD4","alteration":"Hemizygous deletion"},
{"col":0,"gene":"FLCN","alteration":"Hemizygous deletion"},
{"col":1,"gene":"FLCN","alteration":"Hemizygous deletion"},
{"col":2,"gene":"FLCN","alteration":"Hemizygous deletion"},
{"col":3,"gene":"FLCN","alteration":"Hemizygous deletion"},
{"col":4,"gene":"FLCN","alteration":"Hemizygous deletion"},
{"col":5,"gene":"FLCN","alteration":"Hemizygous deletion"},
{"col":7,"gene":"FLCN","alteration":"Hemizygous deletion"},
{"col":13,"gene":"FLCN","alteration":"Hemizygous deletion"},
{"col":25,"gene":"FLCN","alteration":"Hemizygous deletion"},
{"col":28,"gene":"FLCN","alteration":"Hemizygous deletion"},
{"col":31,"gene":"FLCN","alteration":"Hemizygous deletion"},
{"col":32,"gene":"FLCN","alteration":"Hemizygous deletion"},
{"col":40,"gene":"FLCN","alteration":"Hemizygous deletion"},
{"col":42,"gene":"FLCN","alteration":"Hemizygous deletion"},
{"col":3,"gene":"APC","alteration":"Hemizygous deletion"},
{"col":7,"gene":"APC","alteration":"Hemizygous deletion"},
{"col":8,"gene":"APC","alteration":"Hemizygous deletion"},
{"col":9,"gene":"APC","alteration":"Hemizygous deletion"},
{"col":13,"gene":"APC","alteration":"Hemizygous deletion"},
{"col":15,"gene":"APC","alteration":"Hemizygous deletion"},
{"col":19,"gene":"APC","alteration":"Hemizygous deletion"},
{"col":21,"gene":"APC","alteration":"Somatic mutation"},
{"col":22,"gene":"APC","alteration":"Hemizygous deletion"},
{"col":26,"gene":"APC","alteration":"Hemizygous deletion"},
{"col":47,"gene":"APC","alteration":"Hemizygous deletion"},
{"col":53,"gene":"APC","alteration":"Somatic mutation"},
{"col":71,"gene":"APC","alteration":"Hemizygous deletion","second":"Somatic mutation"},
{"col":73,"gene":"APC","alteration":"Hemizygous deletion","second":"Somatic mutation"},
{"col":0,"gene":"MUTYH","alteration":"Hemizygous deletion"},
{"col":2,"gene":"MUTYH","alteration":"Hemizygous deletion"},
{"col":3,"gene":"MUTYH","alteration":"Hemizygous deletion"},
{"col":6,"gene":"MUTYH","alteration":"Hemizygous deletion"},
{"col":13,"gene":"MUTYH","alteration":"Hemizygous deletion"},
{"col":19,"gene":"MUTYH","alteration":"Hemizygous deletion"},
{"col":20,"gene":"MUTYH","alteration":"Hemizygous deletion"},
{"col":21,"gene":"MUTYH","alteration":"Hemizygous deletion"},
{"col":37,"gene":"MUTYH","alteration":"Germline mutation"},
{"col":41,"gene":"MUTYH","alteration":"Hemizygous deletion"},
{"col":94,"gene":"MUTYH","alteration":"Germline mutation"},
{"col":0,"gene":"SDHB","alteration":"Hemizygous deletion"},
{"col":1,"gene":"SDHB","alteration":"Hemizygous deletion"},
{"col":2,"gene":"SDHB","alteration":"Hemizygous deletion"},
{"col":3,"gene":"SDHB","alteration":"Hemizygous deletion"},
{"col":6,"gene":"SDHB","alteration":"Hemizygous deletion"},
{"col":15,"gene":"SDHB","alteration":"Hemizygous deletion"},
{"col":20,"gene":"SDHB","alteration":"Hemizygous deletion"},
{"col":21,"gene":"SDHB","alteration":"Hemizygous deletion"},
{"col":34,"gene":"SDHB","alteration":"Hemizygous deletion"},
{"col":41,"gene":"SDHB","alteration":"Hemizygous deletion"},
{"col":1,"gene":"BRCA1","alteration":"Hemizygous deletion"},
{"col":10,"gene":"BRCA1","alteration":"Hemizygous deletion"},
{"col":15,"gene":"BRCA1","alteration":"Somatic mutation"},
{"col":30,"gene":"BRCA1","alteration":"Somatic mutation"},
{"col":43,"gene":"BRCA1","alteration":"Hemizygous deletion"},
{"col":49,"gene":"BRCA1","alteration":"Hemizygous deletion"},
{"col":54,"gene":"BRCA1","alteration":"Hemizygous deletion"},
{"col":58,"gene":"BRCA1","alteration":"Hemizygous deletion"},
{"col":65,"gene":"BRCA1","alteration":"Hemizygous deletion"},
{"col":91,"gene":"BRCA1","alteration":"Germline mutation"},
{"col":0,"gene":"PHOX2B","alteration":"Hemizygous deletion"},
{"col":7,"gene":"PHOX2B","alteration":"Hemizygous deletion"},
{"col":8,"gene":"PHOX2B","alteration":"Hemizygous deletion"},
{"col":18,"gene":"PHOX2B","alteration":"Hemizygous deletion"},
{"col":21,"gene":"PHOX2B","alteration":"Hemizygous deletion"},
{"col":22,"gene":"PHOX2B","alteration":"Hemizygous deletion"},
{"col":23,"gene":"PHOX2B","alteration":"Hemizygous deletion"},
{"col":27,"gene":"PHOX2B","alteration":"Hemizygous deletion"},
{"col":38,"gene":"PHOX2B","alteration":"Hemizygous deletion"},
{"col":66,"gene":"PHOX2B","alteration":"Hemizygous deletion"},
{"col":1,"gene":"NF1","alteration":"Hemizygous deletion"},
{"col":6,"gene":"NF1","alteration":"Hemizygous deletion"},
{"col":10,"gene":"NF1","alteration":"Hemizygous deletion"},
{"col":11,"gene":"NF1","alteration":"Somatic mutation"},
{"col":12,"gene":"NF1","alteration":"Somatic mutation"},
{"col":13,"gene":"NF1","alteration":"Hemizygous deletion"},
{"col":22,"gene":"NF1","alteration":"Somatic mutation"},
{"col":29,"gene":"NF1","alteration":"Hemizygous deletion"},
{"col":52,"gene":"NF1","alteration":"Somatic mutation"},
{"col":60,"gene":"NF1","alteration":"Somatic mutation"},
{"col":2,"gene":"CDKN2A","alteration":"Hemizygous deletion"},
{"col":3,"gene":"CDKN2A","alteration":"Hemizygous deletion"},
{"col":5,"gene":"CDKN2A","alteration":"Hemizygous deletion"},
{"col":10,"gene":"CDKN2A","alteration":"Hemizygous deletion"},
{"col":36,"gene":"CDKN2A","alteration":"Hemizygous deletion"},
{"col":37,"gene":"CDKN2A","alteration":"Hemizygous deletion"},
{"col":38,"gene":"CDKN2A","alteration":"Hemizygous deletion"},
{"col":51,"gene":"CDKN2A","alteration":"Somatic mutation"},
{"col":62,"gene":"CDKN2A","alteration":"Hemizygous deletion"},
{"col":70,"gene":"CDKN2A","alteration":"Hemizygous deletion"},
{"col":4,"gene":"CHEK2","alteration":"Hemizygous deletion"},
{"col":8,"gene":"CHEK2","alteration":"Hemizygous deletion"},
{"col":9,"gene":"CHEK2","alteration":"Hemizygous deletion"},
{"col":36,"gene":"CHEK2","alteration":"Hemizygous deletion"},
{"col":54,"gene":"CHEK2","alteration":"Hemizygous deletion"},
{"col":76,"gene":"CHEK2","alteration":"Homozygous deletion"},
{"col":88,"gene":"CHEK2","alteration":"Germline mutation"},
{"col":99,"gene":"CHEK2","alteration":"Germline mutation"},
{"col":4,"gene":"MITF","alteration":"Hemizygous deletion"},
{"col":9,"gene":"MITF","alteration":"Hemizygous deletion"},
{"col":13,"gene":"MITF","alteration":"Hemizygous deletion"},
{"col":15,"gene":"MITF","alteration":"Hemizygous deletion"},
{"col":22,"gene":"MITF","alteration":"Hemizygous deletion"},
{"col":44,"gene":"MITF","alteration":"Hemizygous deletion"},
{"col":47,"gene":"MITF","alteration":"Germline mutation"},
{"col":68,"gene":"MITF","alteration":"Hemizygous deletion"},
{"col":2,"gene":"RET","alteration":"Hemizygous deletion"},
{"col":7,"gene":"RET","alteration":"Hemizygous deletion"},
{"col":10,"gene":"RET","alteration":"Hemizygous deletion"},
{"col":12,"gene":"RET","alteration":"Hemizygous deletion"},
{"col":28,"gene":"RET","alteration":"Hemizygous deletion"},
{"col":34,"gene":"RET","alteration":"Hemizygous deletion"},
{"col":81,"gene":"RET","alteration":"Somatic mutation"},
{"col":4,"gene":"SMARCB1","alteration":"Hemizygous deletion"},
{"col":8,"gene":"SMARCB1","alteration":"Hemizygous deletion"},
{"col":9,"gene":"SMARCB1","alteration":"Hemizygous deletion"},
{"col":29,"gene":"SMARCB1","alteration":"Hemizygous deletion"},
{"col":36,"gene":"SMARCB1","alteration":"Hemizygous deletion"},
{"col":62,"gene":"SMARCB1","alteration":"Hemizygous deletion"},
{"col":0,"gene":"BLM","alteration":"Hemizygous deletion"},
{"col":9,"gene":"BLM","alteration":"Hemizygous deletion"},
{"col":27,"gene":"BLM","alteration":"Hemizygous deletion"},
{"col":35,"gene":"BLM","alteration":"Hemizygous deletion"},
{"col":36,"gene":"BLM","alteration":"Hemizygous deletion"},
{"col":74,"gene":"BLM","alteration":"Hemizygous deletion"},
{"col":1,"gene":"MSH6","alteration":"Hemizygous deletion"},
{"col":11,"gene":"MSH6","alteration":"Hemizygous deletion"},
{"col":16,"gene":"MSH6","alteration":"Somatic mutation"},
{"col":24,"gene":"MSH6","alteration":"Hemizygous deletion"},
{"col":30,"gene":"MSH6","alteration":"Hemizygous deletion"},
{"col":37,"gene":"MSH6","alteration":"Somatic mutation"},
{"col":5,"gene":"PALB2","alteration":"Hemizygous deletion","second":"Somatic mutation"},
{"col":7,"gene":"PALB2","alteration":"Hemizygous deletion"},
{"col":16,"gene":"PALB2","alteration":"Somatic mutation"},
{"col":22,"gene":"PALB2","alteration":"Hemizygous deletion"},
{"col":54,"gene":"PALB2","alteration":"Hemizygous deletion"},
{"col":4,"gene":"NF2","alteration":"Hemizygous deletion"},
{"col":8,"gene":"NF2","alteration":"Hemizygous deletion"},
{"col":9,"gene":"NF2","alteration":"Hemizygous deletion"},
{"col":36,"gene":"NF2","alteration":"Hemizygous deletion"},
{"col":77,"gene":"NF2","alteration":"Somatic mutation"},
{"col":4,"gene":"BAP1","alteration":"Hemizygous deletion"},
{"col":9,"gene":"BAP1","alteration":"Hemizygous deletion"},
{"col":26,"gene":"BAP1","alteration":"Hemizygous deletion"},
{"col":38,"gene":"BAP1","alteration":"Hemizygous deletion"},
{"col":44,"gene":"BAP1","alteration":"Hemizygous deletion","second":"Somatic mutation"},
{"col":0,"gene":"FANCC","alteration":"Somatic mutation"},
{"col":3,"gene":"FANCC","alteration":"Hemizygous deletion"},
{"col":11,"gene":"FANCC","alteration":"Hemizygous deletion"},
{"col":25,"gene":"FANCC","alteration":"Hemizygous deletion"},
{"col":82,"gene":"FANCC","alteration":"Germline mutation"},
{"col":3,"gene":"PTCH1","alteration":"Hemizygous deletion"},
{"col":11,"gene":"PTCH1","alteration":"Hemizygous deletion"},
{"col":53,"gene":"PTCH1","alteration":"SV deletion"},
{"col":55,"gene":"PTCH1","alteration":"Somatic mutation"},
{"col":69,"gene":"PTCH1","alteration":"Somatic mutation"},
{"col":0,"gene":"NBN","alteration":"Hemizygous deletion"},
{"col":23,"gene":"NBN","alteration":"Somatic mutation"},
{"col":50,"gene":"NBN","alteration":"Hemizygous deletion"},
{"col":64,"gene":"NBN","alteration":"Hemizygous deletion"},
{"col":1,"gene":"STK11","alteration":"Hemizygous deletion"},
{"col":14,"gene":"STK11","alteration":"Hemizygous deletion"},
{"col":24,"gene":"STK11","alteration":"Hemizygous deletion"},
{"col":43,"gene":"STK11","alteration":"Somatic mutation"},
{"col":0,"gene":"PRKAR1A","alteration":"Hemizygous deletion"},
{"col":1,"gene":"PRKAR1A","alteration":"Hemizygous deletion"},
{"col":5,"gene":"PRKAR1A","alteration":"Hemizygous deletion"},
{"col":65,"gene":"PRKAR1A","alteration":"Hemizygous deletion"},
{"col":1,"gene":"TSC2","alteration":"Somatic mutation"},
{"col":14,"gene":"TSC2","alteration":"Somatic mutation"},
{"col":16,"gene":"TSC2","alteration":"Somatic mutation"},
{"col":37,"gene":"TSC2","alteration":"Somatic mutation"},
{"col":11,"gene":"MSH2","alteration":"Hemizygous deletion"},
{"col":16,"gene":"MSH2","alteration":"Hemizygous deletion"},
{"col":24,"gene":"MSH2","alteration":"Hemizygous deletion"},
{"col":30,"gene":"MSH2","alteration":"Hemizygous deletion"},
{"col":0,"gene":"TSC1","alteration":"Hemizygous deletion"},
{"col":8,"gene":"TSC1","alteration":"Somatic mutation"},
{"col":30,"gene":"TSC1","alteration":"Somatic mutation"},
{"col":43,"gene":"TSC1","alteration":"Hemizygous deletion"},
{"col":1,"gene":"PMS2","alteration":"Somatic mutation"},
{"col":53,"gene":"PMS2","alteration":"Germline mutation"},
{"col":68,"gene":"PMS2","alteration":"High amplification"},
{"col":96,"gene":"PMS2","alteration":"Germline mutation"},
{"col":3,"gene":"VHL","alteration":"Hemizygous deletion"},
{"col":9,"gene":"VHL","alteration":"Hemizygous deletion"},
{"col":23,"gene":"VHL","alteration":"High amplification"},
{"col":44,"gene":"VHL","alteration":"Hemizygous deletion"},
{"col":6,"gene":"MEN1","alteration":"Hemizygous deletion"},
{"col":18,"gene":"MEN1","alteration":"Hemizygous deletion"},
{"col":23,"gene":"MEN1","alteration":"Hemizygous deletion"},
{"col":1,"gene":"SMARCA4","alteration":"Hemizygous deletion"},
{"col":11,"gene":"SMARCA4","alteration":"Somatic mutation"},
{"col":16,"gene":"SMARCA4","alteration":"Somatic mutation"},
{"col":7,"gene":"SDHC","alteration":"Hemizygous deletion"},
{"col":23,"gene":"SDHC","alteration":"High amplification"},
{"col":96,"gene":"SDHC","alteration":"Germline mutation"},
{"col":2,"gene":"ALK","alteration":"Hemizygous deletion"},
{"col":22,"gene":"ALK","alteration":"Hemizygous deletion"},
{"col":80,"gene":"ALK","alteration":"Somatic mutation"},
{"col":15,"gene":"FH","alteration":"Hemizygous deletion"},
{"col":43,"gene":"FH","alteration":"Germline mutation"},
{"col":86,"gene":"FH","alteration":"Germline mutation"},
{"col":11,"gene":"DICER1","alteration":"Somatic mutation"},
{"col":29,"gene":"DICER1","alteration":"Hemizygous deletion"},
{"col":5,"gene":"MET","alteration":"Hemizygous deletion"},
{"col":12,"gene":"MET","alteration":"Hemizygous deletion"},
{"col":0,"gene":"BRIP1","alteration":"Hemizygous deletion"},
{"col":1,"gene":"BRIP1","alteration":"Hemizygous deletion"},
{"col":9,"gene":"MLH1","alteration":"Hemizygous deletion"},
{"col":44,"gene":"MLH1","alteration":"Hemizygous deletion"},
{"col":0,"gene":"SDHAF2","alteration":"Hemizygous deletion"},
{"col":6,"gene":"SDHAF2","alteration":"Hemizygous deletion"},
{"col":18,"gene":"CDK4","alteration":"Hemizygous deletion"}
]
},
"vconcat":[
{
 "width":2440,"height":124,
 "data":{"name":"samples"},
 "mark":{"type":"bar","color":"#5533F5"},
 "encoding":{
  "x":{"field":"sample","type":"nominal","sort":null,"axis":null,"scale":{"paddingInner":0.283,"paddingOuter":0.1415}},
  "y":{"field":"tmb","type":"quantitative","scale":{"domain":[0,44]},
   "axis":{"values":[0,25],"title":"TMB","titleFontSize":60,"labelFontSize":38,"domain":false,"ticks":false,"labelPadding":22,"titleAngle":-90,"titleX":-351,"titleY":79,"titleBaseline":"middle","titleAlign":"center"}}
 }
},
{
 "width":2440,"height":36,
 "data":{"name":"samples"},
 "mark":{"type":"rect"},
 "encoding":{
  "x":{"field":"sample","type":"nominal","sort":null,"axis":null,"scale":{"paddingInner":0.283,"paddingOuter":0.1415}},
  "y":{"datum":"Stage at Oncopanel","type":"nominal","scale":{"paddingInner":0,"paddingOuter":0},"axis":{"title":null,"labelFontSize":44,"ticks":false,"domain":false,"labelPadding":21}},
  "color":{"field":"stage","type":"nominal","title":"Stage",
   "scale":{"domain":["mCRPC","mHSPC","M0 HSPC"],"range":["#EEA7BD","#D6F7B2","#BFDDF3"]},
   "legend":{"orient":"none","legendX":3035.5,"legendY":-59,"symbolType":"M -1 -0.49 H 1 V 0.49 H -1 Z","symbolSize":5329,"rowPadding":11,"titlePadding":-1.6}}
 }
},
{
 "width":2440,"height":34,
 "data":{"name":"samples"},
 "mark":{"type":"rect"},
 "encoding":{
  "x":{"field":"sample","type":"nominal","sort":null,"axis":null,"scale":{"paddingInner":0.283,"paddingOuter":0.1415}},
  "y":{"datum":"Biopsy Site","type":"nominal","scale":{"paddingInner":0,"paddingOuter":0},"axis":{"title":null,"labelFontSize":44,"ticks":false,"domain":false,"labelPadding":21}},
  "color":{"field":"site","type":"nominal","title":"Biopsy site",
   "scale":{"domain":["Lymph node","Prostate","Liver","Peritoneum","Bone","Soft tissue","Lung","Testis","Bladder"],"range":["#EAAA50","#A3EFC0","#F3C3F7","#DF5F73","#93C6EC","#F7F89D","#C0BEF1","#D7F7B3","#DADFDC"]},
   "legend":{"orient":"none","legendX":3035.5,"legendY":182.7,"symbolType":"M -1 -0.425 H 1 V 0.425 H -1 Z","symbolSize":5329,"rowPadding":-4.6,"titlePadding":-4.2}}
 }
},
{
 "hconcat":[
 {
  "width":2440,"height":2159,
  "data":{"name":"alts"},
  "transform":[{"lookup":"col","from":{"data":{"name":"samples"},"key":"col","fields":["sample"]}}],
  "encoding":{
   "x":{"field":"sample","type":"nominal",
    "scale":{"domain":["299","62","139","114","257","393","386","101","463","45","400","312","116","11","32","422","226","229","241","287","82","317","402","339","70","220","227","166","460","89","30","377","81","93","150","345","348","87","264","504","92","40","177","329","140","65","148","234","334","109","518","170","39","236","60","201","49","208","218","210","332","47","119","75","364","325","165","160","130","159","157","54","187","238","68","120","28","352","123","301","41","315","31","319","305","298","178","399","36","63","260","443","297","440","85","428","452","454","318","465"],"paddingInner":0.283,"paddingOuter":0.1415},
    "axis":{"title":null,"labelAngle":-90,"labelFontSize":30,"ticks":false,"domain":false,"labelPadding":16}},
   "y":{"field":"gene","type":"nominal",
    "scale":{"domain":["RB1","PTEN","TP53","BRCA2","ATM","CDH1","BMPR1A","SUFU","CDKN1B","SDHD","SMAD4","FLCN","APC","MUTYH","SDHB","BRCA1","PHOX2B","NF1","CDKN2A","CHEK2","MITF","RET","SMARCB1","BLM","MSH6","PALB2","NF2","BAP1","FANCC","PTCH1","NBN","STK11","PRKAR1A","TSC2","MSH2","TSC1","PMS2","VHL","MEN1","SMARCA4","SDHC","ALK","FH","DICER1","MET","BRIP1","MLH1","SDHAF2","CDK4"],"paddingInner":0.1966,"paddingOuter":0.0983},
    "axis":{"title":null,"labelFontSize":33,"labelFontStyle":"italic","ticks":false,"domain":false,"labelPadding":20}}
  },
  "layer":[
   {"mark":{"type":"rect"},
    "encoding":{"color":{"field":"alteration","type":"nominal","title":"Genomic alterations",
     "scale":{"domain":["Hemizygous deletion","Somatic mutation","High amplification","Germline mutation","Homozygous deletion","SV deletion","SV rearrangement"],"range":["#C8A70C","#5536F2","#DE4160","#D2730F","#569CF0","#B04AEA","#7ADF90"]},
     "legend":{"orient":"none","legendX":3035.5,"legendY":733.4,"symbolType":"M -1 -0.425 H 1 V 0.425 H -1 Z","symbolSize":5329,"rowPadding":-4.5,"titlePadding":3.6}}}},
   {"transform":[{"filter":"isValid(datum.second)"}],
    "mark":{"type":"point","shape":"M 0.494 -1 L 0.494 1 L -0.494 1 Z","size":1253,"filled":true,"opacity":1,"strokeWidth":0},
    "encoding":{"fill":{"field":"second","type":"nominal","legend":null,
     "scale":{"domain":["Hemizygous deletion","Somatic mutation","High amplification","Germline mutation","Homozygous deletion","SV deletion","SV rearrangement"],"range":["#C8A70C","#5536F2","#DE4160","#D2730F","#569CF0","#B04AEA","#7ADF90"]}}}},
   {"transform":[{"filter":"isValid(datum.second)"}],
    "mark":{"type":"point","shape":"M -0.494 1 L 0.494 -1","size":1253,"filled":false,"stroke":"white","strokeWidth":3.5,"opacity":1},
    "encoding":{}}
  ]
 },
 {
  "width":488,"height":2159,
  "data":{"name":"alts"},
  "mark":{"type":"bar","color":"#D5DADA"},
  "encoding":{
   "y":{"field":"gene","type":"nominal",
    "scale":{"domain":["RB1","PTEN","TP53","BRCA2","ATM","CDH1","BMPR1A","SUFU","CDKN1B","SDHD","SMAD4","FLCN","APC","MUTYH","SDHB","BRCA1","PHOX2B","NF1","CDKN2A","CHEK2","MITF","RET","SMARCB1","BLM","MSH6","PALB2","NF2","BAP1","FANCC","PTCH1","NBN","STK11","PRKAR1A","TSC2","MSH2","TSC1","PMS2","VHL","MEN1","SMARCA4","SDHC","ALK","FH","DICER1","MET","BRIP1","MLH1","SDHAF2","CDK4"],"paddingInner":0.1966,"paddingOuter":0.0983},
    "axis":null},
   "x":{"aggregate":"count","type":"quantitative","scale":{"domain":[0,56]},
    "axis":{"values":[0,20,40],"title":"Altered Samples","titleFontSize":58,"labelFontSize":43,"domainColor":"black","tickColor":"black","tickSize":10,"domainWidth":2,"tickWidth":2,"labelPadding":12,"titlePadding":62}}
  }
 }
 ],
 "spacing":30,
 "bounds":"flush"
}
]
}
